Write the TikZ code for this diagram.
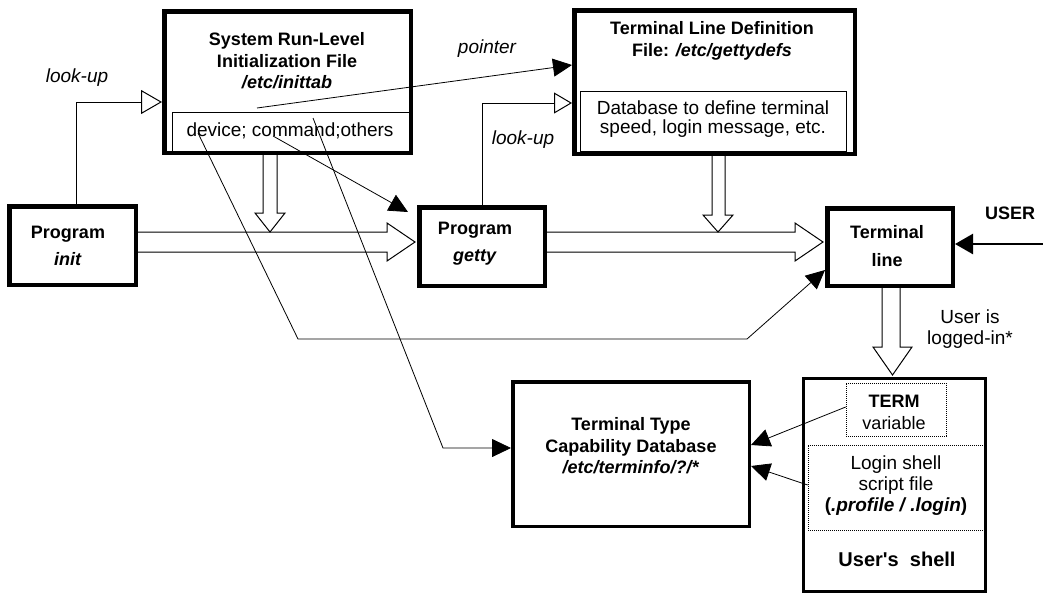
\documentclass[tikz,border=0pt]{standalone}
\usepackage{fontspec}
\setmainfont{Liberation Sans}[Ligatures=TeXOff]
\usetikzlibrary{arrows.meta,calc}
\begin{document}
\begin{tikzpicture}[x=1pt,y=-1pt,
  box/.style={draw, line width=4.5pt, inner sep=0pt},
  midbox/.style={draw, line width=3.5pt, inner sep=0pt},
  thinbox/.style={draw, line width=0.9pt, inner sep=0pt},
  dotbox/.style={draw, line width=0.7pt, dash pattern=on 0.8pt off 1.2pt, inner sep=0pt},
  txt/.style={inner sep=0pt, align=center, font=\fontsize{19}{21}\selectfont},
  btxt/.style={inner sep=0pt, align=center, font=\fontsize{18}{21.5}\selectfont\bfseries},
  ptxt/.style={inner sep=0pt, align=center, font=\fontsize{18}{27}\selectfont\bfseries},
  conn/.style={line width=0.8pt, -{Triangle[length=19pt,width=18pt]}},
  lookup/.style={line width=1pt, -{Triangle[open,length=21pt,width=24pt]}},
  hollow/.style={line width=1pt, fill=white, line join=miter},
]
\useasboundingbox (0,0) rectangle (1043,595);

% ---------- boxes on the main row ----------
\node[box, minimum width=126.5pt, minimum height=78.5pt] (init) at (72.5,245.5) {};
\node[box, minimum width=125.5pt, minimum height=78.5pt] (getty) at (482,246.5) {};
\node[box, minimum width=125.5pt, minimum height=77.5pt] (termline) at (890,247) {};

% ---------- horizontal hollow block arrows ----------
\draw[hollow] ([yshift=13.5pt]init.east) -- (387,232) -- (387,223) -- (415,242)
  -- (387,261) -- (387,252) -- ([yshift=-6.5pt]init.east);
\draw[hollow] ([yshift=14.5pt]getty.east) -- (795,232) -- (795,223) -- (823,242)
  -- (795,261) -- (795,252) -- ([yshift=-5.5pt]getty.east);

% ---------- other boxes ----------
\node[thinbox, minimum width=237pt, minimum height=41pt] (inittabIn) at (290.5,132.5) {};
\node[box, minimum width=246.5pt, minimum height=141.5pt] (inittab) at (287.5,82) {};
\node[thinbox, minimum width=266pt, minimum height=60pt] (gettydefsIn) at (713,121) {};
\node[box, minimum width=280.5pt, minimum height=143.5pt] (gettydefs) at (714.5,82) {};
\node[midbox, minimum width=236.5pt, minimum height=144.5pt] (termtype) at (631,454) {};
\node[draw, line width=3pt, inner sep=0pt, minimum width=182pt, minimum height=213pt] (shell) at (894.5,485) {};
\node[dotbox, minimum width=100pt, minimum height=53pt] (termvar) at (896,409.5) {};
\node[dotbox, minimum width=176pt, minimum height=85pt] (login) at (896,487.5) {};

% ---------- vertical hollow block arrows ----------
\draw[hollow] ([xshift=-24.5pt]inittab.south) -- ++(0,58) -- ++(-8,0) -- ++(15,19)
  -- ++(15,-19) -- ++(-8,0) -- ++(0,-58);
\draw[hollow] ([xshift=-2.5pt]gettydefs.south) -- ++(0,59) -- ++(-9,0) -- ++(15,17)
  -- ++(15,-17) -- ++(-8,0) -- ++(0,-59);
\draw[hollow] ([xshift=-8pt]termline.south) -- ++(0,59) -- ++(-9,0) -- ++(19.5,28)
  -- ++(19.5,-28) -- ++(-12,0) -- ++(0,-59);

% ---------- texts ----------
\node[btxt] (tInittab) at (287,61) {System Run-Level\\Initialization File\\\textit{/etc/inittab}};
\node[txt] (tDev) at (290,131) {device; command;others};
\node[btxt] (tGd) at (712,41) {Terminal Line Definition\\File: \textit{/etc/gettydefs}};
\node[txt, font=\fontsize{19}{19.5}\selectfont] (tDb) at (713,119) {Database to define terminal\\speed, login message, etc.};
\node[ptxt] (tInit) at (68,246) {Program\\\textit{init}};
\node[ptxt] (tGetty) at (475,244) {Program\\\textit{getty}};
\node[ptxt, font=\fontsize{18}{28}\selectfont\bfseries] (tTerm) at (887,246) {Terminal\\line};
\node[btxt] (tUser) at (1010,213) {USER};
\node[txt] (tLogged) at (970,329) {User is\\logged-in*};
\node[txt, font=\fontsize{19}{21}\selectfont\itshape] (tLook1) at (77,78) {look-up};
\node[txt, font=\fontsize{19}{21}\selectfont\itshape] (tPtr) at (487,49) {pointer};
\node[txt, font=\fontsize{19}{21}\selectfont\itshape] (tLook2) at (523,140) {look-up};
\node[btxt] (tTT) at (631,446) {Terminal Type\\Capability Database\\\textit{/etc/terminfo/?/*}};
\node[inner sep=0pt, align=center, font=\fontsize{18}{22}\selectfont] (tTV) at (894,412) {\textbf{TERM}\\variable};
\node[txt] (tLS) at (896,486) {Login shell\\script file\\\textbf{(\textit{.profile / .login})}};
\node[btxt, font=\fontsize{20}{22}\selectfont\bfseries] (tUS) at (897,559) {User's\ \ shell};

% ---------- connectors ----------
\draw[lookup] ([xshift=3.5pt]init.north) |- ([yshift=-20pt]inittab.west);
\draw[lookup, -{Triangle[open,length=18pt,width=21pt]}] (getty.north) |- ([yshift=-21pt]gettydefs.west);

\coordinate (ptrA) at (257,108);
\draw[conn] (ptrA) -- ([yshift=17pt]gettydefs.west);

\coordinate (cmdA) at (273,136);
\draw[conn] (cmdA) -- ([xshift=-9pt,yshift=-7pt]getty.north west);

\coordinate (devA) at (198,133);
\coordinate (devB) at (298,339);
\coordinate (devC) at (747,339);
\draw[conn] (devA) -- (devB) -- (devC) -- ([yshift=-23pt]termline.west);

\coordinate (cmdB) at (313,118);
\coordinate (cmdC) at (443,448);
\draw[conn] (cmdB) -- (cmdC) -- (cmdC -| termtype.west);

\draw[conn] ([yshift=2.5pt]termvar.west) -- ([yshift=9pt]termtype.east);
\draw[conn] ([yshift=2.5pt]login.west) -- ([yshift=-12pt]termtype.east);

\coordinate (userIn) at (1043,244);
\draw[line width=2.5pt, -{Triangle[length=18pt,width=20pt]}] (userIn) -- ([yshift=3pt]termline.east);
\end{tikzpicture}
\end{document}
